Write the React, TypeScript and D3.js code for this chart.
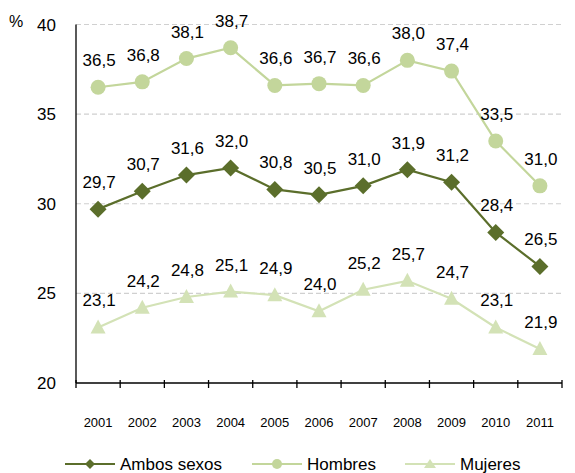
import { useEffect, useRef } from 'react';
import * as d3 from 'd3';

const years = ['2001', '2002', '2003', '2004', '2005', '2006', '2007', '2008', '2009', '2010', '2011'];
const ambos = [29.7, 30.7, 31.6, 32.0, 30.8, 30.5, 31.0, 31.9, 31.2, 28.4, 26.5];
const hombres = [36.5, 36.8, 38.1, 38.7, 36.6, 36.7, 36.6, 38.0, 37.4, 33.5, 31.0];
const mujeres = [23.1, 24.2, 24.8, 25.1, 24.9, 24.0, 25.2, 25.7, 24.7, 23.1, 21.9];
const yTicks = [20, 25, 30, 35, 40];

const series = [
  { name: 'Ambos sexos', values: ambos, color: '#5b6e2b', marker: 'diamond' },
  { name: 'Hombres', values: hombres, color: '#c3d69b', marker: 'circle' },
  { name: 'Mujeres', values: mujeres, color: '#d3e2b6', marker: 'triangle' },
];

const fmt = (v: number) => v.toFixed(1).replace('.', ',');

export default function App() {
  const svgRef = useRef<SVGSVGElement>(null);

  useEffect(() => {
    if (!svgRef.current) return;
    const svg = d3.select(svgRef.current);
    svg.selectAll('*').remove();

    const font = 'Liberation Sans, Arial, sans-serif';
    const left = 76;
    const right = 562;
    const top = 24.5;
    const bottom = 383;

    const x = d3.scaleBand<string>().domain(years).range([left, right]);
    const y = d3.scaleLinear().domain([20, 40]).range([bottom, top]);
    const cx = (i: number) => (x(years[i]) as number) + x.bandwidth() / 2;

    // gridlines
    svg.append('g')
      .selectAll('line')
      .data(yTicks.filter((t) => t > 20))
      .join('line')
      .attr('x1', left)
      .attr('x2', right)
      .attr('y1', (d) => y(d))
      .attr('y2', (d) => y(d))
      .attr('stroke', '#d0d0d0')
      .attr('stroke-width', 1.2)
      .attr('stroke-dasharray', '5,3');

    // y labels
    svg.append('g')
      .selectAll('text')
      .data(yTicks)
      .join('text')
      .attr('x', 56)
      .attr('y', (d) => y(d) + 6)
      .attr('text-anchor', 'end')
      .attr('font-family', font)
      .attr('font-size', 17)
      .attr('fill', '#000')
      .text((d) => d);

    svg.append('text')
      .attr('x', 9)
      .attr('y', 27)
      .attr('font-family', font)
      .attr('font-size', 16)
      .text('%');

    // axes
    svg.append('line')
      .attr('x1', left).attr('x2', left)
      .attr('y1', top).attr('y2', bottom)
      .attr('stroke', '#000').attr('stroke-width', 1.3);
    svg.append('line')
      .attr('x1', left).attr('x2', right)
      .attr('y1', bottom).attr('y2', bottom)
      .attr('stroke', '#000').attr('stroke-width', 1.3);

    const tickXs = years.map((yr) => x(yr) as number).concat([right]);
    svg.append('g')
      .selectAll('line')
      .data(tickXs)
      .join('line')
      .attr('x1', (d) => d).attr('x2', (d) => d)
      .attr('y1', bottom - 3).attr('y2', bottom + 5)
      .attr('stroke', '#000').attr('stroke-width', 1.3);

    svg.append('g')
      .selectAll('text')
      .data(years)
      .join('text')
      .attr('x', (d) => (x(d) as number) + x.bandwidth() / 2)
      .attr('y', 427)
      .attr('text-anchor', 'middle')
      .attr('font-family', font)
      .attr('font-size', 13)
      .text((d) => d);

    const drawMarker = (g: any, type: string, px: number, py: number, color: string) => {
      if (type === 'diamond') {
        g.append('path')
          .attr('d', `M${px},${py - 8.5}L${px + 8.5},${py}L${px},${py + 8.5}L${px - 8.5},${py}Z`)
          .attr('fill', color);
      } else if (type === 'circle') {
        g.append('circle').attr('cx', px).attr('cy', py).attr('r', 7.5).attr('fill', color);
      } else {
        g.append('path')
          .attr('d', `M${px},${py - 8}L${px + 7.5},${py + 6}L${px - 7.5},${py + 6}Z`)
          .attr('fill', color);
      }
    };

    series.forEach((s) => {
      const g = svg.append('g');
      const line = d3.line<number>().x((_, i) => cx(i)).y((d) => y(d));
      g.append('path')
        .attr('d', line(s.values) as string)
        .attr('fill', 'none')
        .attr('stroke', s.color)
        .attr('stroke-width', 2.2);
      s.values.forEach((v, i) => drawMarker(g, s.marker, cx(i), y(v), s.color));
      g.selectAll('text.lbl')
        .data(s.values)
        .join('text')
        .attr('class', 'lbl')
        .attr('x', (_, i) => cx(i) + 1)
        .attr('y', (d) => y(d) - 21)
        .attr('text-anchor', 'middle')
        .attr('font-family', font)
        .attr('font-size', 17)
        .attr('fill', '#000')
        .text((d) => fmt(d));
    });

    // legend
    const legendX = [65, 252, 405];
    series.forEach((s, i) => {
      const lx = legendX[i];
      const ly = 464;
      const g = svg.append('g');
      g.append('line')
        .attr('x1', lx).attr('x2', lx + 50)
        .attr('y1', ly).attr('y2', ly)
        .attr('stroke', s.color).attr('stroke-width', 2.2);
      const mg = g.append('g');
      if (s.marker === 'diamond') {
        mg.append('path')
          .attr('d', `M${lx + 25},${ly - 5}L${lx + 30},${ly}L${lx + 25},${ly + 5}L${lx + 20},${ly}Z`)
          .attr('fill', s.color);
      } else if (s.marker === 'circle') {
        mg.append('circle').attr('cx', lx + 25).attr('cy', ly).attr('r', 5).attr('fill', s.color);
      } else {
        mg.append('path')
          .attr('d', `M${lx + 25},${ly - 5}L${lx + 31},${ly + 4}L${lx + 19},${ly + 4}Z`)
          .attr('fill', s.color);
      }
      g.append('text')
        .attr('x', lx + 55)
        .attr('y', ly + 6)
        .attr('font-family', font)
        .attr('font-size', 17)
        .text(s.name);
    });
  }, []);

  return (
    <svg
      ref={svgRef}
      width={575}
      height={473}
      style={{ position: 'absolute', left: 0, top: 0, background: '#fff' }}
    />
  );
}
